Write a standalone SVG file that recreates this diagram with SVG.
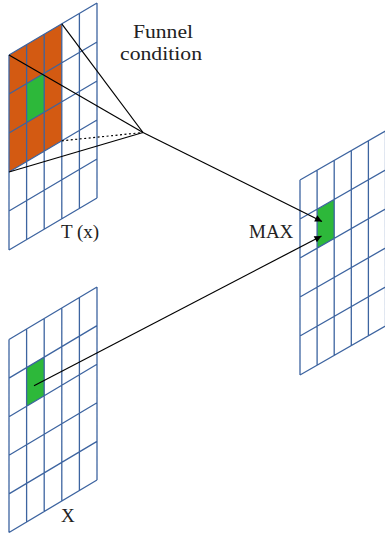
<svg xmlns="http://www.w3.org/2000/svg" width="385" height="534" viewBox="0 0 385 534">
<style>
.grid{fill:none;stroke:#3d64a0;stroke-width:1.3}
.orange{fill:#d35a12}
.green{fill:#2db83a}
.ln{fill:none;stroke:#000;stroke-width:1.2}
.dot{fill:none;stroke:#000;stroke-width:1.2;stroke-dasharray:2 2.5}
.lbl{font-family:"Liberation Serif","Times New Roman",serif;font-size:19px;fill:#222}
</style>
<defs>
<marker id="ah" viewBox="0 0 10 10" refX="10" refY="5" markerWidth="9" markerHeight="7" markerUnits="userSpaceOnUse" orient="auto">
<path d="M0,0 L10,5 L0,10 z" fill="#000"/>
</marker>
</defs>
<rect width="385" height="534" fill="#fff"/>
<g id="grid-tx">
<polygon class="orange" points="9,55 61.8,23.8 61.8,140.8 9,172"/>
<polygon class="green" points="26.6,83.6 44.2,73.2 44.2,112.2 26.6,122.6"/>
<path class="grid" d="M9,55V250M26.6,44.6V239.6M44.2,34.2V229.2M61.8,23.8V218.8M79.4,13.4V208.4M97,3V198M9,55L97,3M9,94L97,42M9,133L97,81M9,172L97,120M9,211L97,159M9,250L97,198"/>
<text class="lbl" x="61" y="238">T (x)</text>
</g>
<g id="grid-x">
<polygon class="green" points="26.6,367.6 44.2,357.1 44.2,395.7 26.6,406.2"/>
<path class="grid" d="M9,339.5V532.5M26.6,329V522M44.2,318.5V511.5M61.8,308V501M79.4,297.5V490.5M97,287V480M9,339.5L97,287M9,378.1L97,325.6M9,416.7L97,364.2M9,455.3L97,402.8M9,493.9L97,441.4M9,532.5L97,480"/>
<text class="lbl" x="61" y="522">X</text>
</g>
<g id="grid-max">
<polygon class="green" points="317.1,209.2 334.2,199.4 334.2,238.4 317.1,248.2"/>
<path class="grid" d="M300,180V375M317.1,170.2V365.2M334.2,160.4V355.4M351.3,150.6V345.6M368.4,140.8V335.8M385.5,131V326M300,180L385.5,131M300,219L385.5,170M300,258L385.5,209M300,297L385.5,248M300,336L385.5,287M300,375L385.5,326"/>
<text class="lbl" x="249" y="238">MAX</text>
</g>
<g id="funnel-label">
<text class="lbl" x="133" y="37.5" textLength="60" lengthAdjust="spacingAndGlyphs">Funnel</text>
<text class="lbl" x="120" y="60" textLength="82" lengthAdjust="spacingAndGlyphs">condition</text>
</g>
<g id="connectors">
<line class="ln" x1="61.8" y1="23.8" x2="143" y2="132.5"/>
<line class="ln" x1="9" y1="55" x2="143" y2="132.5"/>
<line class="ln" x1="9" y1="172" x2="143" y2="132.5"/>
<line class="dot" x1="61.8" y1="140.8" x2="143" y2="132.5"/>
<line class="ln" x1="143" y1="132.5" x2="322" y2="221.5" marker-end="url(#ah)"/>
<line class="ln" x1="34" y1="385.7" x2="321.5" y2="236" marker-end="url(#ah)"/>
</g>
</svg>
